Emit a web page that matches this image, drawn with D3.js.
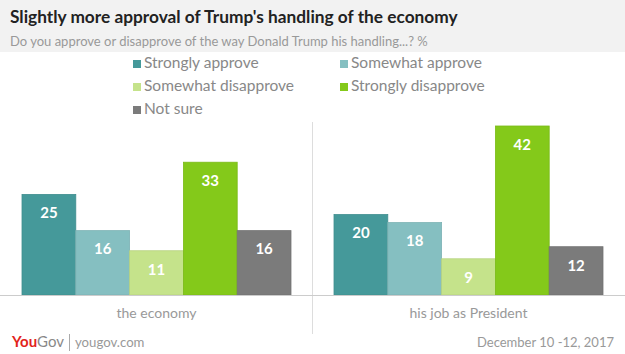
<!DOCTYPE html>
<html>
<head>
<meta charset="utf-8">
<script src="https://cdn.jsdelivr.net/npm/d3@7"></script>
<style>
  body { margin: 0; background: #fff; }
  text { font-family: Lato, "Open Sans", sans-serif; }
</style>
</head>
<body>
<div id="chart"></div>
<script>
const categories = ["the economy", "his job as President"];
const seriesNames = ["Strongly approve", "Somewhat approve", "Somewhat disapprove", "Strongly disapprove", "Not sure"];
const economy = [25, 16, 11, 33, 16];
const president = [20, 18, 9, 42, 12];
const colors = ["#45999a", "#85bfc1", "#c5e38b", "#84c91a", "#7b7b7b"];

const width = 625, height = 354;

const svg = d3.select("#chart")
    .append("svg")
    .attr("width", width)
    .attr("height", height);

// header band
svg.append("rect")
    .attr("x", 0).attr("y", 0)
    .attr("width", width).attr("height", 52)
    .attr("fill", "#f2f2f2");

svg.append("text")
    .attr("x", 10).attr("y", 23)
    .attr("font-size", 17.3)
    .attr("font-weight", "bold")
    .attr("fill", "#222")
    .text("Slightly more approval of Trump's handling of the economy");

svg.append("text")
    .attr("x", 10).attr("y", 46)
    .attr("font-size", 13)
    .attr("fill", "#999")
    .text("Do you approve or disapprove of the way Donald Trump his handling...? %");

// legend
const legendPos = [[133, 64], [340, 64], [133, 87], [340, 87], [133, 110]];
seriesNames.forEach((name, i) => {
    let g = svg.append("g")
        .attr("transform", `translate(${legendPos[i][0]},${legendPos[i][1]})`);
    g.append("rect")
        .attr("x", 0).attr("y", -4)
        .attr("width", 8).attr("height", 8)
        .attr("fill", colors[i]);
    g.append("text")
        .attr("x", 11).attr("y", 0)
        .attr("dominant-baseline", "middle")
        .attr("font-size", 15.5)
        .attr("fill", "#888")
        .text(name);
});

const data = [economy, president];
const baseY = 295;

let x1 = d3.scaleBand()
    .domain(seriesNames)
    .range([22, 291]);

let y = d3.scaleLinear()
    .domain([0, 42])
    .range([baseY, 126]);

// divider
svg.append("line")
    .attr("x1", 312.5).attr("x2", 312.5)
    .attr("y1", 122).attr("y2", 334)
    .attr("stroke", "#ddd").attr("stroke-width", 1);

categories.forEach((cat, ci) => {
    let g = svg.append("g")
        .attr("transform", `translate(${ci === 0 ? 0 : 312},0)`);

    g.selectAll("rect")
        .data(data[ci])
        .join("rect")
        .attr("x", (d, i) => x1(seriesNames[i]))
        .attr("y", d => y(d))
        .attr("width", x1.bandwidth())
        .attr("height", d => baseY - y(d))
        .attr("fill", (d, i) => colors[i])
        .attr("stroke", (d, i) => d3.color(colors[i]).darker(0.2))
        .attr("stroke-width", 0.8);

    g.selectAll("text.val")
        .data(data[ci])
        .join("text")
        .attr("class", "val")
        .attr("x", (d, i) => x1(seriesNames[i]) + x1.bandwidth() / 2)
        .attr("y", d => y(d) + 20)
        .attr("text-anchor", "middle")
        .attr("dominant-baseline", "middle")
        .attr("font-size", 15)
        .attr("font-weight", "bold")
        .attr("fill", "#fff")
        .text(d => d);

    g.append("text")
        .attr("x", (x1.range()[0] + x1.range()[1]) / 2)
        .attr("y", 314)
        .attr("text-anchor", "middle")
        .attr("dominant-baseline", "middle")
        .attr("font-size", 14)
        .attr("fill", "#999")
        .text(cat);
});

// baseline
svg.append("line")
    .attr("x1", 0).attr("x2", width)
    .attr("y1", baseY + 0.5).attr("y2", baseY + 0.5)
    .attr("stroke", "#ccc").attr("stroke-width", 1);

// footer
let logo = svg.append("text")
    .attr("x", 12).attr("y", 347)
    .attr("font-size", 15)
    .attr("font-weight", "bold");
logo.append("tspan").attr("fill", "#e2231a").text("You");
logo.append("tspan").attr("fill", "#888").attr("font-weight", "normal").text("Gov");

svg.append("line")
    .attr("x1", 69.5).attr("x2", 69.5)
    .attr("y1", 334).attr("y2", 351)
    .attr("stroke", "#aaa");

svg.append("text")
    .attr("x", 75).attr("y", 347)
    .attr("font-size", 13.2)
    .attr("fill", "#999")
    .text("yougov.com");

svg.append("text")
    .attr("x", 614).attr("y", 347)
    .attr("text-anchor", "end")
    .attr("font-size", 13)
    .attr("fill", "#999")
    .text("December 10 -12, 2017");
</script>
</body>
</html>
